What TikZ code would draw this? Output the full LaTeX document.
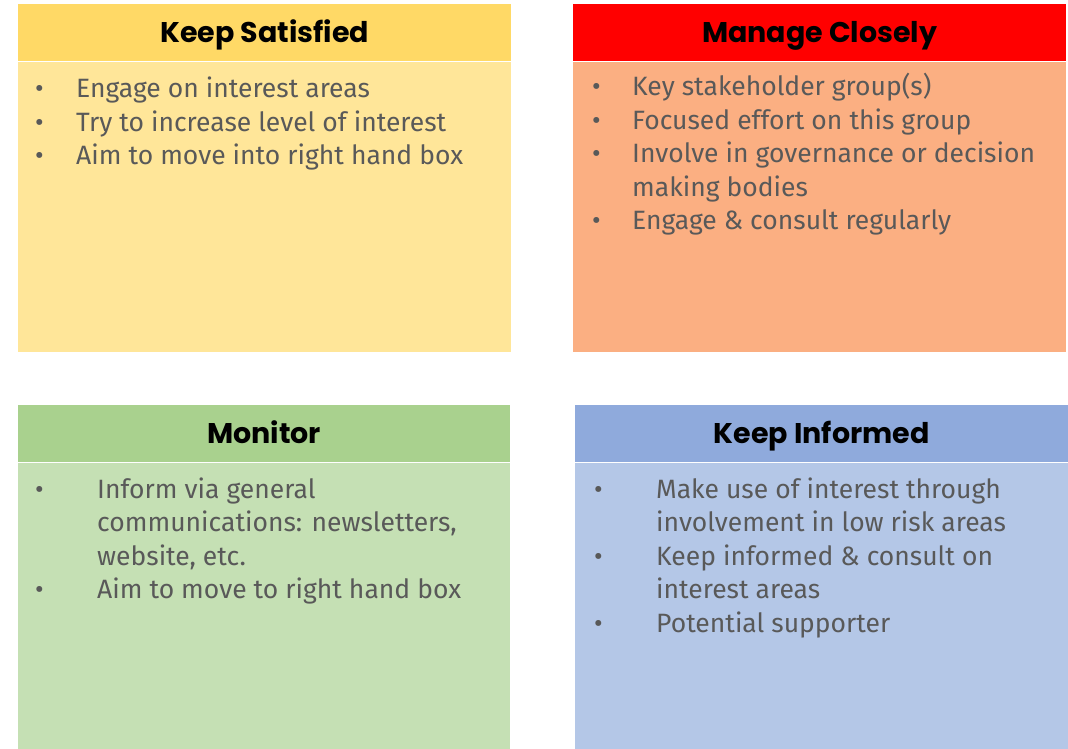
\documentclass[tikz,border=0pt]{standalone}
\usepackage{fontspec}
\setmainfont{Fira Sans}
\newfontfamily\titlefont{Poppins}
\usetikzlibrary{positioning}
\definecolor{satisfyhead}{HTML}{FFD966}
\definecolor{satisfybody}{HTML}{FFE699}
\definecolor{managehead}{HTML}{FF0000}
\definecolor{managebody}{HTML}{FBAF82}
\definecolor{monitorhead}{HTML}{A9D18E}
\definecolor{monitorbody}{HTML}{C5E0B4}
\definecolor{informhead}{HTML}{8FAADC}
\definecolor{informbody}{HTML}{B4C7E7}
\definecolor{itemgray}{HTML}{595959}
\tikzset{
  head box/.style={draw=none, inner sep=0pt, minimum height=57pt, anchor=north west,
    text height=25pt, text depth=6pt,
    font=\titlefont\bfseries\fontsize{28.5pt}{31pt}\selectfont, text=black},
  body box/.style={draw=none, inner sep=0pt, anchor=north},
  item list/.style={inner sep=0pt, anchor=base west, text=itemgray,
    font=\fontsize{26.5pt}{33.5pt}\selectfont},
}
% one coloured quadrant: name, x, y, width, body height, head colour, body colour, title
\newcommand{\drawQuadrant}[8]{
  \node[head box, fill=#6, minimum width=#4] (#1 head) at (#2,#3) {#8};
  \node[body box, fill=#7, minimum width=#4, minimum height=#5] (#1 body) [below=0pt of #1 head] {};
}
% bullet list set as a tabular: name, bullet position, indent, rows
\newcommand{\itemList}[4]{
  \node[item list] (#1) at (#2) {\begin{tabular}[t]{@{}p{#3}@{}l@{}}#4\end{tabular}};
}

\begin{document}
\begin{tikzpicture}[x=1pt, y=-1pt]
  \useasboundingbox[fill=white] (0,0) rectangle (1068,749);
  \drawQuadrant{satisfied}{18}{4}{493pt}{290pt}{satisfyhead}{satisfybody}{Keep Satisfied}
  \drawQuadrant{manage}{573}{4}{493pt}{290pt}{managehead}{managebody}{Manage Closely}
  \drawQuadrant{monitor}{18}{405}{492pt}{287pt}{monitorhead}{monitorbody}{Monitor}
  \drawQuadrant{informed}{575}{405}{493pt}{287pt}{informhead}{informbody}{Keep Informed}
  \itemList{satisfied items}{35,98}{41pt}{
    \textbullet & Engage on interest areas \\
    \textbullet & Try to increase level of interest \\
    \textbullet & Aim to move into right hand box \\}
  \itemList{manage items}{592,96}{40pt}{
    \textbullet & Key stakeholder group(s) \\
    \textbullet & Focused effort on this group \\
    \textbullet & Involve in governance or decision \\
                & making bodies \\
    \textbullet & Engage \& consult regularly \\}
  \itemList{monitor items}{35,498}{62pt}{
    \textbullet & Inform via general \\
                & communications: newsletters, \\
                & website, etc. \\
    \textbullet & Aim to move to right hand box \\}
  \itemList{informed items}{594,498}{62pt}{
    \textbullet & Make use of interest through \\
                & involvement in low risk areas \\
    \textbullet & Keep informed \& consult on \\
                & interest areas \\
    \textbullet & Potential supporter \\}
\end{tikzpicture}
\end{document}
